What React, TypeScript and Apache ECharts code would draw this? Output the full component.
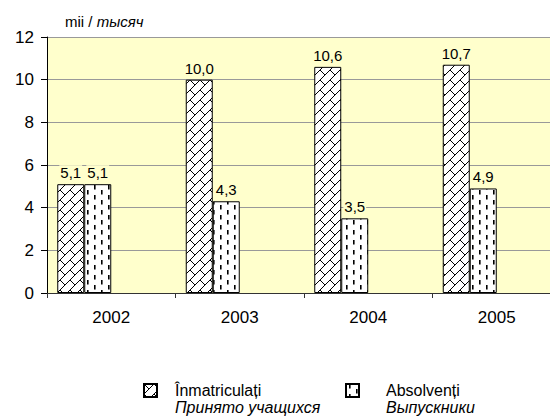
import React, { useEffect, useRef } from "react";
import * as echarts from "echarts";

const categories = ["2002", "2003", "2004", "2005"];
const enrolled = [5.1, 10.0, 10.6, 10.7];
const graduates = [5.1, 4.3, 3.5, 4.9];
const seriesNames = ["Înmatriculați", "Absolvenți"];
const seriesSubNames = ["Принято учащихся", "Выпускники"];
const yMin = 0;
const yMax = 12;
const yInterval = 2;

const FONT = 'Arial, "Liberation Sans", sans-serif';

function makeBrick(): HTMLCanvasElement {
  const s = 10;
  const c = document.createElement("canvas");
  c.width = s;
  c.height = s;
  const ctx = c.getContext("2d")!;
  ctx.fillStyle = "#ffffff";
  ctx.fillRect(0, 0, s, s);
  ctx.strokeStyle = "#000000";
  ctx.lineWidth = 1;
  for (const dx of [-s, 0, s]) {
    for (const dy of [-s, 0, s]) {
      ctx.beginPath();
      ctx.moveTo(dx + 0, dy + s);
      ctx.lineTo(dx + s, dy + 0);
      ctx.stroke();
      ctx.beginPath();
      ctx.moveTo(dx + 0, dy + 0);
      ctx.lineTo(dx + s / 2, dy + s / 2);
      ctx.stroke();
    }
  }
  return c;
}

function makeDash(): HTMLCanvasElement {
  const w = 14;
  const h = 10;
  const c = document.createElement("canvas");
  c.width = w;
  c.height = h;
  const ctx = c.getContext("2d")!;
  ctx.fillStyle = "#ffffff";
  ctx.fillRect(0, 0, w, h);
  ctx.fillStyle = "#000000";
  ctx.fillRect(3, 0, 1.6, 4.5);
  ctx.fillRect(10, 5, 1.6, 4.5);
  return c;
}

export default function App() {
  const ref = useRef<HTMLDivElement>(null);
  useEffect(() => {
    if (!ref.current) return;
    const chart = echarts.init(ref.current, null, { renderer: "svg" });
    const brick = makeBrick();
    const dash = makeDash();
    const brickFill: any = { image: brick, repeat: "repeat", imageWidth: 10, imageHeight: 10 };
    const dashFill: any = { image: dash, repeat: "repeat", imageWidth: 14, imageHeight: 10 };

    const labelCfg = {
      show: true,
      position: "top",
      distance: 4,
      fontSize: 15,
      fontFamily: FONT,
      color: "#000",
      backgroundColor: "#ffffcc",
      padding: [0, 1],
      formatter: (p: any) => Number(p.value).toFixed(1).replace(".", ","),
    };

    const legendText = (padLeft: number) => ({
      color: "#000",
      padding: [16, 0, 0, padLeft],
      rich: {
        a: { fontSize: 16, fontFamily: FONT, lineHeight: 17, color: "#000" },
        b: { fontSize: 16, fontFamily: FONT, fontStyle: "italic", lineHeight: 17, color: "#000" },
      },
    });
    const legendFormatter = (name: string) => {
      const i = seriesNames.indexOf(name);
      return `{a|${name}}\n{b|${seriesSubNames[i]}}`;
    };

    const option: any = {
      animation: false,
      backgroundColor: "#ffffff",
      grid: {
        left: 47,
        top: 37,
        width: 514,
        height: 256,
        show: true,
        backgroundColor: "#ffffcc",
        borderWidth: 0,
        containLabel: false,
      },
      graphic: [
        {
          type: "text",
          left: 65,
          top: 14,
          style: {
            text: "{a|mii / }{b|тысяч}",
            rich: {
              a: { fontSize: 15, fontFamily: FONT, fill: "#000" },
              b: { fontSize: 15, fontFamily: FONT, fontStyle: "italic", fill: "#000" },
            },
          },
        },
      ],
      legend: [
        {
          left: 143,
          top: 382,
          padding: 0,
          itemWidth: 13,
          itemHeight: 13,
          icon: "rect",
          data: [seriesNames[0]],
          formatter: legendFormatter,
          textStyle: legendText(13),
        },
        {
          left: 345,
          top: 382,
          padding: 0,
          itemWidth: 13,
          itemHeight: 13,
          icon: "rect",
          data: [seriesNames[1]],
          formatter: legendFormatter,
          textStyle: legendText(22),
        },
      ],
      xAxis: {
        type: "category",
        data: categories,
        boundaryGap: true,
        axisLine: { show: true, lineStyle: { color: "#333", width: 1 } },
        axisTick: { show: true, length: 5, lineStyle: { color: "#333" } },
        axisLabel: { fontSize: 17, fontFamily: FONT, color: "#000", margin: 16 },
        splitLine: { show: false },
      },
      yAxis: {
        type: "value",
        min: yMin,
        max: yMax,
        interval: yInterval,
        axisLine: { show: true, lineStyle: { color: "#000", width: 1 } },
        axisTick: { show: true, length: 6, lineStyle: { color: "#000" } },
        axisLabel: { fontSize: 17, fontFamily: FONT, color: "#000", margin: 13 },
        splitLine: { show: true, lineStyle: { color: "#999", width: 1 } },
      },
      series: [
        {
          name: seriesNames[0],
          type: "bar",
          data: enrolled,
          barWidth: 27,
          barGap: "0%",
          itemStyle: { color: brickFill, borderColor: "#000", borderWidth: 1 },
          label: labelCfg,
        },
        {
          name: seriesNames[1],
          type: "bar",
          data: graduates,
          barWidth: 27,
          barGap: "0%",
          itemStyle: { color: dashFill, borderColor: "#000", borderWidth: 1 },
          label: labelCfg,
        },
        {
          name: "_empty1",
          type: "bar",
          data: categories.map(() => null),
          barWidth: 27,
          barGap: "0%",
        },
        {
          name: "_empty2",
          type: "bar",
          data: categories.map(() => null),
          barWidth: 27,
          barGap: "0%",
        },
      ],
    };
    chart.setOption(option);
    return () => chart.dispose();
  }, []);
  return (
    <div style={{ position: "absolute", left: 0, top: 0, width: 550, height: 418, overflow: "hidden" }}>
      <div ref={ref} style={{ position: "absolute", left: 0, top: 0, width: 580, height: 418 }} />
    </div>
  );
}
